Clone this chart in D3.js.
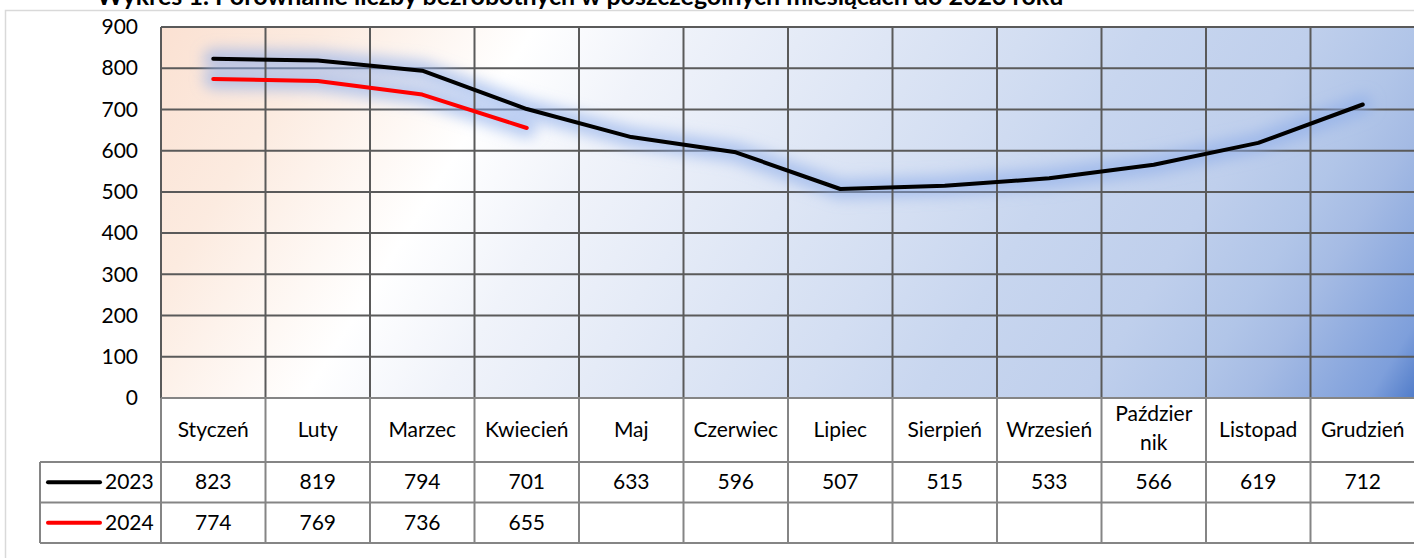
<!DOCTYPE html>
<html>
<head>
<meta charset="utf-8">
<script src="https://cdn.jsdelivr.net/npm/d3@7.9.0/dist/d3.min.js"></script>
<style>
  body { margin: 0; background: #fff; }
  svg { display: block; font-family: Lato, "Liberation Sans", sans-serif; }
</style>
</head>
<body>
<svg id="chart" width="1414" height="558"></svg>
<script>
// chart values
const months = ["Styczeń", "Luty", "Marzec", "Kwiecień", "Maj", "Czerwiec", "Lipiec",
  "Sierpień", "Wrzesień", "Październik", "Listopad", "Grudzień"];
const values2023 = [823, 819, 794, 701, 633, 596, 507, 515, 533, 566, 619, 712];
const values2024 = [774, 769, 736, 655];
const yTicks = [0, 100, 200, 300, 400, 500, 600, 700, 800, 900];
const seriesNames = ["2023", "2024"];
const seriesColors = ["#000000", "#ff0000"];
const title = "Wykres 1. Porównanie liczby bezrobotnych w poszczególnych miesiącach do 2023 roku";

const svg = d3.select("#chart");

const plot = { left: 161, right: 1415, top: 27, bottom: 398 };
const catRowBottom = 462;
const rowH = 40.5;
const legendLeft = 40;
const fontSize = 21;

const x = d3.scaleBand().domain(months).range([plot.left, plot.right]).padding(0);
const y = d3.scaleLinear().domain([0, 900]).range([plot.bottom, plot.top]);

// gradient background (mostly left->right, peach -> white -> blue) + glow filter
const defs = svg.append("defs");
const grad = defs.append("linearGradient")
  .attr("id", "bg").attr("gradientUnits", "userSpaceOnUse")
  .attr("x1", 127).attr("y1", 80).attr("x2", 1207).attr("y2", 753);
[[0, "#fbe1d2"], [0.02, "#fbe3d5"], [0.11, "#fcebe0"], [0.25, "#ffffff"], [0.34, "#f0f3fa"],
 [0.58, "#d3def2"], [0.66, "#c8d6ef"], [0.77, "#bfcfec"], [0.84, "#b1c5e8"],
 [0.88, "#a5bbe4"], [0.96, "#7e9fdb"], [1, "#4472c4"]]
  .forEach(([o, c]) => grad.append("stop").attr("offset", o).attr("stop-color", c));

const glow = defs.append("filter").attr("id", "glow")
  .attr("x", "-10%").attr("y", "-50%").attr("width", "120%").attr("height", "200%");
glow.append("feGaussianBlur").attr("stdDeviation", 7);

// outer frame
svg.append("rect")
  .attr("x", 5.5).attr("y", 10.5).attr("width", 1500).attr("height", 600)
  .attr("fill", "none").attr("stroke", "#d9d9d9").attr("stroke-width", 1.5);

// title (clipped at top like the source)
svg.append("text")
  .attr("x", 580).attr("y", 5)
  .attr("text-anchor", "middle")
  .attr("font-weight", "bold").attr("font-size", 25)
  .text(title);

svg.append("rect")
  .attr("x", plot.left).attr("y", plot.top)
  .attr("width", plot.right - plot.left).attr("height", plot.bottom - plot.top)
  .attr("fill", "url(#bg)");

// horizontal gridlines
svg.append("g")
  .selectAll("line")
  .data(yTicks)
  .join("line")
  .attr("x1", plot.left).attr("x2", plot.right)
  .attr("y1", d => y(d)).attr("y2", d => y(d))
  .attr("stroke", "#5a5a5a").attr("stroke-width", 2);

// y axis labels
const yAxis = svg.append("g")
  .attr("transform", `translate(${plot.left - 23},0)`)
  .call(d3.axisLeft(y).tickValues(yTicks).tickSize(0).tickPadding(0));
yAxis.select(".domain").remove();
yAxis.selectAll("text")
  .attr("font-size", fontSize).attr("fill", "#000")
  .attr("font-family", "Lato, 'Liberation Sans', sans-serif");

// lines with soft blue glow
const line = d3.line()
  .x((d, i) => x(months[i]) + x.bandwidth() / 2)
  .y(d => y(d));

[values2023, values2024].forEach(vals => {
  svg.append("path")
    .datum(vals)
    .attr("d", line)
    .attr("fill", "none")
    .attr("stroke", "#8cacea")
    .attr("stroke-opacity", 0.6)
    .attr("stroke-width", 20)
    .attr("stroke-linecap", "round")
    .attr("stroke-linejoin", "round")
    .attr("filter", "url(#glow)");
});

// vertical gridlines in plot (band edges)
const edges = months.map(m => x(m)).concat([plot.right]);
svg.append("g")
  .selectAll("line")
  .data(edges)
  .join("line")
  .attr("x1", d => d).attr("x2", d => d)
  .attr("y1", plot.top).attr("y2", plot.bottom)
  .attr("stroke", "#5a5a5a").attr("stroke-width", 2);

[values2023, values2024].forEach((vals, k) => {
  svg.append("path")
    .datum(vals)
    .attr("d", line)
    .attr("fill", "none")
    .attr("stroke", seriesColors[k])
    .attr("stroke-width", 4)
    .attr("stroke-linecap", "round")
    .attr("stroke-linejoin", "round");
});

// data table
const table = svg.append("g");
const tableStroke = "#858585";
const row1 = catRowBottom, row2 = catRowBottom + rowH, row3 = catRowBottom + 2 * rowH;

// horizontal lines of table
[[plot.left, plot.bottom], [legendLeft, row1], [legendLeft, row2], [legendLeft, row3]]
  .forEach(([x0, yy]) => {
    table.append("line")
      .attr("x1", x0).attr("x2", plot.right)
      .attr("y1", yy).attr("y2", yy)
      .attr("stroke", tableStroke).attr("stroke-width", 2);
  });
// vertical lines of table
table.selectAll("line.v")
  .data(edges)
  .join("line")
  .attr("class", "v")
  .attr("x1", d => d).attr("x2", d => d)
  .attr("y1", plot.bottom).attr("y2", row3)
  .attr("stroke", tableStroke).attr("stroke-width", 2);
table.append("line")
  .attr("x1", legendLeft).attr("x2", legendLeft)
  .attr("y1", row1).attr("y2", row3)
  .attr("stroke", tableStroke).attr("stroke-width", 2);

// category labels (wrap if too wide)
const catG = table.selectAll("text.cat")
  .data(months)
  .join("text")
  .attr("class", "cat")
  .attr("text-anchor", "middle")
  .attr("font-size", fontSize)
  .attr("x", d => x(d) + x.bandwidth() / 2);

catG.each(function(d) {
  const t = d3.select(this);
  const mid = (plot.bottom + row1) / 2;
  const cx = x(d) + x.bandwidth() / 2;
  t.text(d);
  if (this.getComputedTextLength() > x.bandwidth() - 6) {
    let cut = d.length;
    while (cut > 1) {
      t.text(d.slice(0, cut));
      if (this.getComputedTextLength() <= x.bandwidth() * 0.8) break;
      cut--;
    }
    t.text(null);
    t.append("tspan").attr("x", cx).attr("y", mid - 9).text(d.slice(0, cut));
    t.append("tspan").attr("x", cx).attr("y", mid + 20).text(d.slice(cut));
  } else {
    t.attr("y", mid + 7);
  }
});

// value rows
[values2023, values2024].forEach((vals, k) => {
  const cy = row1 + rowH * k + rowH / 2;
  table.selectAll(`text.v${k}`)
    .data(vals)
    .join("text")
    .attr("class", `v${k}`)
    .attr("text-anchor", "middle")
    .attr("font-size", fontSize)
    .attr("x", (d, i) => x(months[i]) + x.bandwidth() / 2)
    .attr("y", cy + 7)
    .text(d => d);

  // legend key
  table.append("line")
    .attr("x1", 48).attr("x2", 100)
    .attr("y1", cy).attr("y2", cy)
    .attr("stroke", seriesColors[k]).attr("stroke-width", 4)
    .attr("stroke-linecap", "round");
  table.append("text")
    .attr("x", 105).attr("y", cy + 7)
    .attr("font-size", fontSize)
    .text(seriesNames[k]);
});
</script>
</body>
</html>
